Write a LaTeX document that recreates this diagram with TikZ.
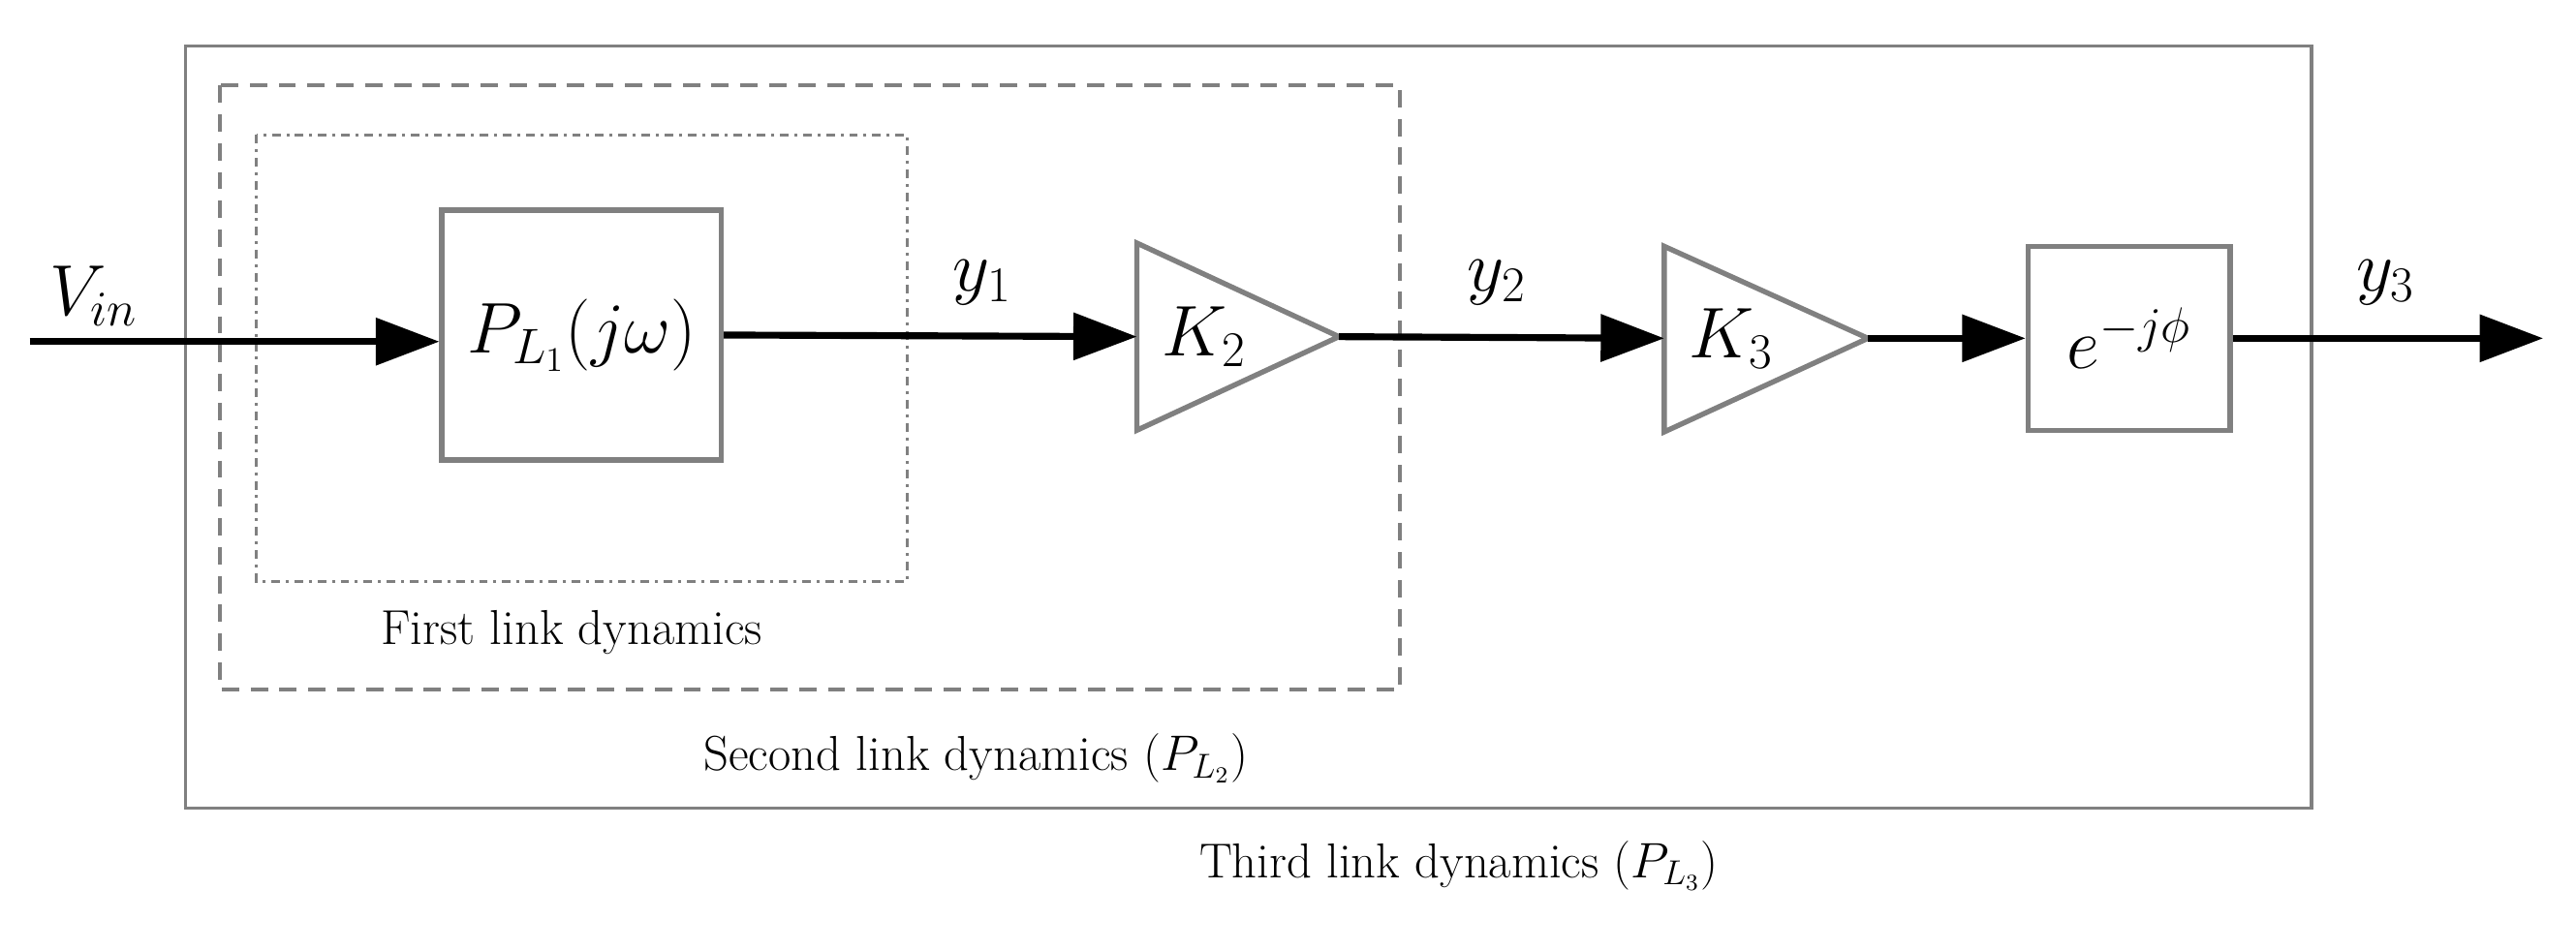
\documentclass[tikz,border=0pt]{standalone}
\usepackage{tikz}
\usetikzlibrary{arrows.meta, positioning}
\tikzset{
    blk/.style={draw=gray, line width=1.8pt},
    sig/.style={line width=2.4pt, -{Triangle[length=22pt, width=16pt]}},
    lbl/.style={font=\fontsize{26}{30}\selectfont},
    boxcap/.style={font=\fontsize{17}{20}\selectfont}
}
\begin{document}
\begin{tikzpicture}[x=0.02cm, y=-0.02cm]
    \useasboundingbox (0,0) rectangle (1568,578);
    % enclosing boxes
    \draw[gray, line width=1.2pt] (113,28) rectangle (1407,492);
    \draw[gray, line width=1.2pt, dash pattern=on 6pt off 4pt] (134,52) rectangle (852,420);
    \draw[gray, line width=1pt, dash dot] (156,82) rectangle (552,354);
    \node[boxcap] (c1) at (348,385) {First link dynamics};
    \node[boxcap] (c2) at (594,462) {Second link dynamics ($P_{L_2}$)};
    \node[boxcap] (c3) at (888,527) {Third link dynamics ($P_{L_3}$)};
    % blocks
    \node[blk, minimum width=170*0.02cm, minimum height=152*0.02cm, font=\fontsize{24}{28}\selectfont] (pl) at (354,204) {$P_{L_1}(j\omega)$};
    \node[blk, minimum width=123*0.02cm, minimum height=112*0.02cm, font=\fontsize{26}{30}\selectfont] (ep) at (1296,206) {$e^{-j\phi}$};
    \coordinate (k2in) at (692,205);
    \coordinate (k2out) at (815,205);
    \coordinate (k3in) at (1013,206);
    \coordinate (k3out) at (1137,206);
    \draw[blk, line join=miter] (692,148) -- (k2out) -- (692,262) -- cycle;
    \draw[blk, line join=miter] (1013,150) -- (k3out) -- (1013,263) -- cycle;
    \node[lbl] (k2) at (733,205) {$K_2$};
    \node[lbl] (k3) at (1054,206) {$K_3$};
    % signals
    \coordinate (in) at (18,208);
    \coordinate (out) at (1548,206);
    \draw[sig] (in) -- (pl.west |- in);
    \draw[sig] (pl.east) -- (k2in);
    \draw[sig] (k2out) -- (k3in);
    \draw[sig] (k3out) -- (ep.west);
    \draw[sig] (ep.east) -- (out);
    \node[lbl] (vin) at (57,180) {$V_{in}$};
    \node[lbl] (y1) at (598,172) {$y_1$};
    \node[lbl] (y2) at (911,172) {$y_2$};
    \node[lbl] (y3) at (1452,172) {$y_3$};
\end{tikzpicture}
\end{document}
